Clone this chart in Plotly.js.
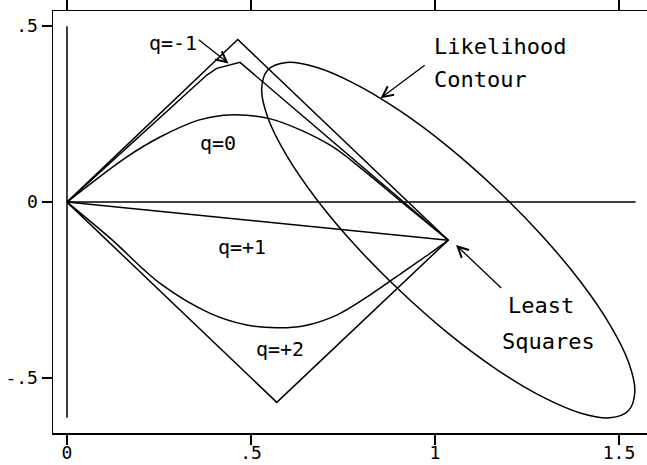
<!DOCTYPE html>
<html>
<head>
<meta charset="utf-8">
<script src="https://cdn.plot.ly/plotly-3.0.1.min.js"></script>
<style>
html,body{margin:0;padding:0;background:#fff;}
#chart{width:647px;height:465px;}
</style>
</head>
<body>
<div id="chart"></div>
<script>
// ---- data ----
// sharp outer polygon (origin -> upper vertex -> least squares -> lower vertex -> origin)
const boundX = [0, 0.464, 1.036, 0.570, 0];
const boundY = [0, 0.462, -0.108, -0.569, 0];

// q = -1 path
const qm1X = [0, 0.380, 0.407, 0.470, 1.036];
const qm1Y = [0, 0.361, 0.380, 0.397, -0.108];

// q = 0 path
const q0X = [0, 0.162, 0.253, 0.357, 0.425, 0.488, 0.565, 0.715, 0.805, 0.914, 1.036];
const q0Y = [0, 0.128, 0.185, 0.233, 0.247, 0.247, 0.233, 0.162, 0.091, -0.004, -0.108];

// q = +1 path
const qp1X = [0, 1.036];
const qp1Y = [0, -0.108];

// q = +2 path
const qp2X = [0, 0.118, 0.253, 0.389, 0.488, 0.570, 0.642, 0.733, 0.823, 0.914, 0.986, 1.036];
const qp2Y = [0, -0.103, -0.231, -0.316, -0.349, -0.357, -0.352, -0.321, -0.264, -0.198, -0.146, -0.108];

// likelihood contour (points read around the ellipse)
const ellX = [1.543, 1.526, 1.475, 1.3945, 1.2895, 1.167, 1.036, 0.905, 0.7825, 0.6775, 0.597, 0.546,
              0.529, 0.546, 0.597, 0.6775, 0.7825, 0.905, 1.036, 1.167, 1.2895, 1.3945, 1.475, 1.526, 1.543];
const ellY = [-0.538, -0.455, -0.348, -0.225, -0.094, 0.036, 0.157, 0.259, 0.336, 0.383, 0.397, 0.376,
              0.322, 0.239, 0.132, 0.009, -0.122, -0.252, -0.373, -0.475, -0.552, -0.599, -0.613, -0.592, -0.538];

// reference lines
const vLineX = [0, 0];
const vLineY = [0.5, -0.613];
const hLineX = [0, 1.545];
const hLineY = [0, 0];

// ticks
const xTickVals = [0, 0.5, 1, 1.5];
const xTickText = ['0', '.5', '1', '1.5'];
const yTickVals = [-0.5, 0, 0.5];
const yTickText = ['-.5', '0', '.5'];

// labels: [text, x, y]
const labels = [
  ['q=-1', 0.288, 0.452],
  ['q=0', 0.410, 0.168],
  ['q=+1', 0.475, -0.127],
  ['q=+2', 0.579, -0.418]
];
const bigLabels = [
  ['Likelihood', 0.992, 0.443, 'left'],
  ['Contour', 0.992, 0.347, 'left'],
  ['Least', 1.289, -0.295, 'center'],
  ['Squares', 1.308, -0.395, 'center']
];
// arrows: [tailX, tailY, headX, headY]
const arrows = [
  [0.354, 0.465, 0.439, 0.394],
  [0.976, 0.392, 0.852, 0.295],
  [1.184, -0.248, 1.057, -0.122]
];

// ---- drawing ----
const LW = 1.5;
const black = '#000';
function line(x, y, shape) {
  return {x: x, y: y, type: 'scatter', mode: 'lines', hoverinfo: 'skip',
          line: {color: black, width: LW, shape: shape || 'linear', smoothing: 1}};
}
const traces = [
  line(vLineX, vLineY),
  line(hLineX, hLineY),
  line(boundX, boundY),
  line(qm1X, qm1Y),
  line(q0X, q0Y, 'spline'),
  line(qp1X, qp1Y),
  line(qp2X, qp2Y, 'spline'),
  line(ellX, ellY, 'spline')
];

const FONT = '"DejaVu Sans Mono", "Liberation Mono", monospace';
const annotations = [];
labels.forEach(l => annotations.push({
  text: l[0], x: l[1], y: l[2], xref: 'x', yref: 'y', showarrow: false,
  xanchor: 'center', yanchor: 'middle', font: {family: FONT, size: 20, color: black}
}));
bigLabels.forEach(l => annotations.push({
  text: l[0], x: l[1], y: l[2], xref: 'x', yref: 'y', showarrow: false,
  xanchor: l[3], yanchor: 'middle', font: {family: FONT, size: 22, color: black}
}));
arrows.forEach(a => annotations.push({
  text: '', x: a[2], y: a[3], ax: a[0], ay: a[1], xref: 'x', yref: 'y', axref: 'x', ayref: 'y',
  showarrow: true, arrowhead: 5, arrowsize: 1.6, arrowwidth: 1.3, arrowcolor: black,
  standoff: 0, startstandoff: 0
}));

function axis(extra) {
  return Object.assign({
    showgrid: false, zeroline: false, showline: true, linecolor: black, linewidth: LW,
    ticks: 'outside', ticklen: 10, tickwidth: LW, tickcolor: black,
    tickfont: {family: FONT, size: 18, color: black}, tickmode: 'array'
  }, extra);
}

const layout = {
  width: 647, height: 465,
  font: {family: FONT, size: 18, color: black},
  margin: {l: 53, r: 0, t: 11, b: 32},
  paper_bgcolor: '#fff', plot_bgcolor: '#fff',
  showlegend: false,
  xaxis: axis({
    range: [-0.038, 1.576], tickvals: xTickVals, ticktext: xTickText, mirror: 'ticks',
    ticklabelstandoff: -7
  }),
  yaxis: axis({
    range: [-0.656, 0.543], tickvals: yTickVals, ticktext: yTickText, mirror: false,
    ticklabelstandoff: 0
  }),
  annotations: annotations
};

Plotly.newPlot('chart', traces, layout, {displayModeBar: false, staticPlot: true});
</script>
</body>
</html>
